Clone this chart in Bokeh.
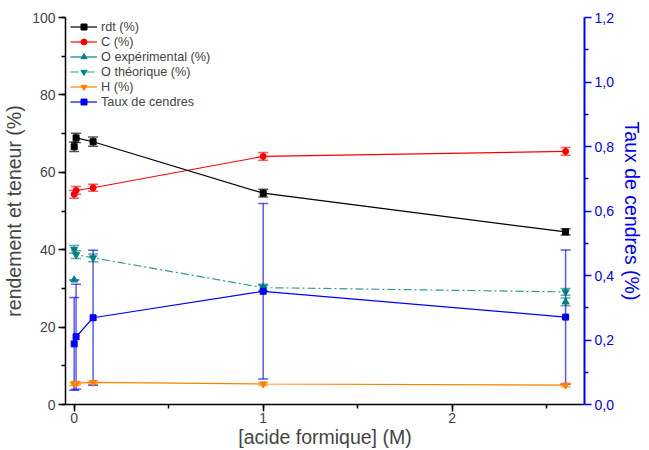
from bokeh.plotting import figure
from bokeh.models import (Range1d, LinearAxis, SingleIntervalTicker, FixedTicker, Whisker, ColumnDataSource,
                          Legend, LegendItem, CustomJSTickFormatter)
from bokeh.embed import file_html
from bokeh.resources import INLINE

# ---- data ----
x_acid = [0, 0.01, 0.1, 1, 2.6]
rdt = [66.6, 68.9, 67.9, 54.6, 44.6]
rdt_err = [1.2, 1.2, 1.2, 1.0, 0.8]
carbon = [54.3, 55.3, 56.0, 64.1, 65.4]
carbon_err = [1.0, 1.0, 0.9, 1.0, 1.0]
x_oexp = [0, 1, 2.6]
o_exp = [32.2, 30.0, 26.5]
o_exp_err = [0.0, 0.8, 1.0]
o_theo = [40.1, 38.7, 37.9, 30.2, 29.1]
o_theo_err = [1.0, 1.0, 1.0, 0.9, 0.9]
hydro = [5.3, 5.5, 5.7, 5.3, 5.0]
hydro_err = [0.4, 0.4, 0.4, 0.4, 0.4]
ash = [0.188, 0.21, 0.269, 0.351, 0.271]
ash_err = [0.144, 0.163, 0.209, 0.272, 0.208]
ash_ticks = [0.0, 0.2, 0.4, 0.6, 0.8, 1.0, 1.2]
ash_minor = [0.1, 0.3, 0.5, 0.7, 0.9, 1.1]

FONT = "Liberation Sans"
BLACK, RED, TEAL, TEAL2, ORANGE, BLUE = "#000000", "#FF0000", "#008080", "#339999", "#FF8000", "#0000FF"

p = figure(width=649, height=450, output_backend="svg", toolbar_location=None,
           x_range=Range1d(-0.046, 2.70), y_range=Range1d(0, 100),
           min_border_left=65, min_border_right=65, min_border_top=17, min_border_bottom=45)
p.extra_y_ranges = {"ash": Range1d(0, 1.2)}
p.grid.visible = False
p.outline_line_color = None
p.background_fill_color = "white"

# axes styling
xa = p.xaxis[0]
xa.ticker = SingleIntervalTicker(interval=1, num_minor_ticks=2)
xa.axis_label = "[acide formique] (M)"
ya = p.yaxis[0]
ya.ticker = SingleIntervalTicker(interval=20, num_minor_ticks=2)
ya.axis_label = "rendement et teneur (%)"
for ax in (xa, ya):
    ax.axis_line_width = 1.5
    ax.major_tick_line_width = 1.5
    ax.minor_tick_line_width = 1.5
    ax.major_tick_out = 7
    ax.major_tick_in = 0
    ax.minor_tick_out = 4
    ax.minor_tick_in = 0
    ax.major_label_text_font = FONT
    ax.major_label_text_font_size = "14px"
    ax.major_label_standoff = 3
    ax.axis_label_text_font = FONT
    ax.axis_label_text_font_size = "19.5px"
    ax.axis_label_text_font_style = "normal"
    ax.axis_label_standoff = 4
xa.major_label_standoff = 1
xa.axis_label_standoff = 0

ra = LinearAxis(y_range_name="ash", axis_label="Taux de cendres (%)",
                ticker=FixedTicker(ticks=ash_ticks, minor_ticks=ash_minor),
                formatter=CustomJSTickFormatter(code="return tick.toFixed(1).replace('.', ',');"))
ra.axis_line_color = BLUE
ra.axis_line_width = 2
ra.major_tick_line_color = BLUE
ra.minor_tick_line_color = BLUE
ra.major_tick_line_width = 1.5
ra.minor_tick_line_width = 1.5
ra.major_tick_out = 7
ra.major_tick_in = 0
ra.minor_tick_out = 4
ra.minor_tick_in = 0
ra.major_label_text_color = BLUE
ra.major_label_text_font = FONT
ra.major_label_text_font_size = "14px"
ra.major_label_standoff = 3
ra.axis_label_text_color = BLUE
ra.axis_label_text_font = FONT
ra.axis_label_text_font_size = "19.5px"
ra.axis_label_text_font_style = "normal"
ra.axis_label_standoff = 4
p.add_layout(ra, "right")


def whisker(xs, ys, errs, color, range_name="default"):
    src = ColumnDataSource(dict(x=xs, lo=[a - b for a, b in zip(ys, errs)],
                                hi=[a + b for a, b in zip(ys, errs)]))
    w = Whisker(source=src, base="x", lower="lo", upper="hi", dimension="height",
                line_color=color, line_alpha=0.65, line_width=1.5, y_range_name=range_name)
    for head in (w.upper_head, w.lower_head):
        head.size = 10
        head.line_color = color
        head.line_alpha = 0.65
        head.line_width = 1.5
    p.add_layout(w)


# H
whisker(x_acid, hydro, hydro_err, ORANGE)
l = p.line(x_acid, hydro, line_color=ORANGE, line_width=1.2)
s = p.scatter(x_acid, hydro, marker="inverted_triangle", size=7, color=ORANGE)
h_item = LegendItem(label="H (%)", renderers=[l, s])

# O théorique
whisker(x_acid, o_theo, o_theo_err, TEAL)
l = p.line(x_acid, o_theo, line_color=TEAL2, line_width=1.2, line_dash="8 3 2 3")
s = p.scatter(x_acid, o_theo, marker="inverted_triangle", size=7, color=TEAL)
ot_item = LegendItem(label="O théorique (%)", renderers=[l, s])

# O expérimental (points only on the plot; one-point line only for the legend glyph)
whisker(x_oexp, o_exp, o_exp_err, TEAL)
l = p.line(x_oexp[:1], o_exp[:1], line_color=TEAL, line_width=1.2)
s = p.scatter(x_oexp, o_exp, marker="triangle", size=7, color=TEAL)
oe_item = LegendItem(label="O expérimental (%)", renderers=[l, s])

# C
whisker(x_acid, carbon, carbon_err, RED)
l = p.line(x_acid, carbon, line_color=RED, line_width=1.2)
s = p.scatter(x_acid, carbon, marker="circle", size=6, color=RED)
c_item = LegendItem(label="C (%)", renderers=[l, s])

# rdt
whisker(x_acid, rdt, rdt_err, BLACK)
l = p.line(x_acid, rdt, line_color=BLACK, line_width=1.2)
s = p.scatter(x_acid, rdt, marker="square", size=6, color=BLACK)
r_item = LegendItem(label="rdt (%)", renderers=[l, s])

# Taux de cendres (right axis)
whisker(x_acid, ash, ash_err, BLUE, "ash")
l = p.line(x_acid, ash, line_color=BLUE, line_width=1.2, y_range_name="ash")
s = p.scatter(x_acid, ash, marker="square", size=6, color=BLUE, y_range_name="ash")
a_item = LegendItem(label="Taux de cendres", renderers=[l, s])

legend = Legend(items=[r_item, c_item, oe_item, ot_item, h_item, a_item],
                location=(5, 295), margin=0, padding=0, spacing=0,
                glyph_width=27, glyph_height=15, label_height=15, label_standoff=4,
                label_text_font=FONT, label_text_font_size="12.7px",
                border_line_color=None, background_fill_alpha=0)
p.add_layout(legend)

open("out.html", "w").write(file_html(p, INLINE))
